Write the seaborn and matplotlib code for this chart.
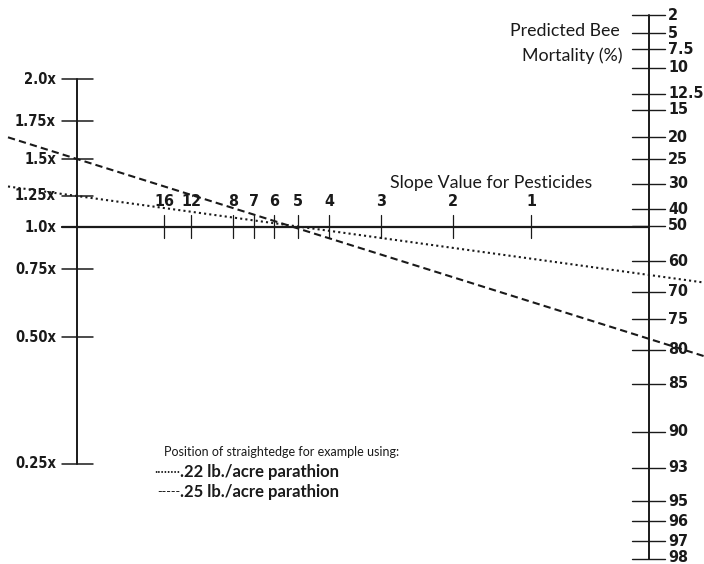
import numpy as np
import pandas as pd
import matplotlib
matplotlib.use("Agg")
import matplotlib.pyplot as plt
from matplotlib import font_manager as fm
import seaborn as sns

# ---------------- data ----------------
# Left scale: dosage multiplier
dose_labels = ["2.0x", "1.75x", "1.5x", "1.25x", "1.0x", "0.75x", "0.50x", "0.25x"]
dose_values = [2.0, 1.75, 1.5, 1.25, 1.0, 0.75, 0.50, 0.25]
dose_pos = [79, 121, 159, 196, 227, 269, 337, 464]

# Middle scale: slope value for pesticides
slope_labels = ["16", "12", "8", "7", "6", "5", "4", "3", "2", "1"]
slope_pos = [164, 191, 233, 254, 274, 298, 329, 381, 453, 531]

# Right scale: predicted bee mortality (%)
mort_values = [2, 5, 7.5, 10, 12.5, 15, 20, 25, 30, 40, 50, 60, 70, 75, 80, 85, 90, 93, 95, 96, 97, 98]
mort_labels = ["2", "5", "7.5", "10", "12.5", "15", "20", "25", "30", "40", "50", "60",
               "70", "75", "80", "85", "90", "93", "95", "96", "97", "98"]
mort_pos = [15, 33, 49, 68, 94, 110, 137, 159, 184, 209, 226, 261, 292, 319, 350, 384,
            432, 468, 501, 521, 541, 559]

# Straightedge examples (reading on left scale and right scale)
example_names = [".22 lb./acre parathion", ".25 lb./acre parathion"]
example_dose = [1.25, 1.5]
example_mortality = [64.5, 78.2]

# ---------------- layout ----------------
W, H = 704, 564
X_LEFT, X_RIGHT, Y_MID = 77, 649, 227
sns.set_theme(style="white")
plt.rcParams["font.family"] = ["Lato", "DejaVu Sans"]

# pick a condensed bold face for the scale numbers
fonts = fm.fontManager.ttflist
names = {f.name for f in fonts}
if "Liberation Sans Narrow" in names:
    num_font = dict(family="Liberation Sans Narrow", weight="bold")
    big, small = 12.5, 11
elif any(f.name == "DejaVu Sans" and f.stretch == "condensed" for f in fonts):
    num_font = dict(family="DejaVu Sans", weight="bold", stretch="condensed")
    big, small = 11.5, 10.5
else:
    num_font = dict(family="Roboto", weight="bold")
    big, small = 11.5, 11

fig = plt.figure(figsize=(W / 100, H / 100), dpi=100)
ax = fig.add_axes([0, 0, 1, 1])
ax.set_xlim(0, W)
ax.set_ylim(H, 0)
ax.axis("off")

ink = "#1a1a1a"
num_font["color"] = ink

# left scale
ax.plot([X_LEFT, X_LEFT], [dose_pos[0], dose_pos[-1]], color=ink, lw=1.4)
for lab, y in zip(dose_labels, dose_pos):
    ax.plot([X_LEFT - 15, X_LEFT + 16], [y, y], color=ink, lw=1.1)
    ax.text(X_LEFT - 21, y, lab, ha="right", va="center", fontsize=small, **num_font)

# middle scale
ax.plot([X_LEFT - 15, X_RIGHT], [Y_MID, Y_MID], color=ink, lw=1.6)
for lab, x in zip(slope_labels, slope_pos):
    ax.plot([x, x], [Y_MID - 12, Y_MID + 11], color=ink, lw=0.9)
    ax.text(x, Y_MID - 25, lab, ha="center", va="center", fontsize=big, **num_font)
ax.text(390, 183, "Slope Value for Pesticides", ha="left", va="center",
        fontsize=12.8, color=ink)

# right scale
ax.plot([X_RIGHT, X_RIGHT], [mort_pos[0], mort_pos[-1]], color=ink, lw=1.4)
for lab, y in zip(mort_labels, mort_pos):
    ax.plot([X_RIGHT - 17, X_RIGHT + 16], [y, y], color=ink, lw=1.0)
    ax.text(X_RIGHT + 19, min(y, H - 7), lab, ha="left", va="center", fontsize=big, **num_font)
ax.text(620, 31, "Predicted Bee", ha="right", va="center", fontsize=12.8, color=ink)
ax.text(623, 56, "Mortality (%)", ha="right", va="center", fontsize=12.8, color=ink)

# straightedge lines
rows = []
for name, d, m in zip(example_names, example_dose, example_mortality):
    yl = np.interp(d, dose_values[::-1], dose_pos[::-1])
    yr = np.interp(m, mort_values, mort_pos)
    slope = (yr - yl) / (X_RIGHT - X_LEFT)
    for x in (8, W):
        rows.append({"x": x, "y": yl + slope * (x - X_LEFT), "example": name})
lines = pd.DataFrame(rows)
sns.lineplot(data=lines, x="x", y="y", hue="example", style="example",
             palette=[ink, ink], dashes={example_names[0]: (1, 1.5), example_names[1]: (3.5, 2)},
             sort=False, estimator=None, lw=1.5, legend=False, ax=ax)

# legend as text
ax.text(164, 452, "Position of straightedge for example using:", ha="left", va="center",
        fontsize=9, color=ink)
ax.text(180, 472, "\u00b7\u00b7\u00b7\u00b7\u00b7\u00b7\u00b7\u00b7", ha="right", va="center",
        fontsize=9, color=ink)
ax.text(180, 472, example_names[0], ha="left", va="center", fontsize=12,
        fontweight="bold", color=ink)
ax.text(180, 492, "-----", ha="right", va="center", fontsize=9, color=ink)
ax.text(180, 492, example_names[1], ha="left", va="center", fontsize=12,
        fontweight="bold", color=ink)

fig.savefig("out.png", dpi=100, facecolor="white")
